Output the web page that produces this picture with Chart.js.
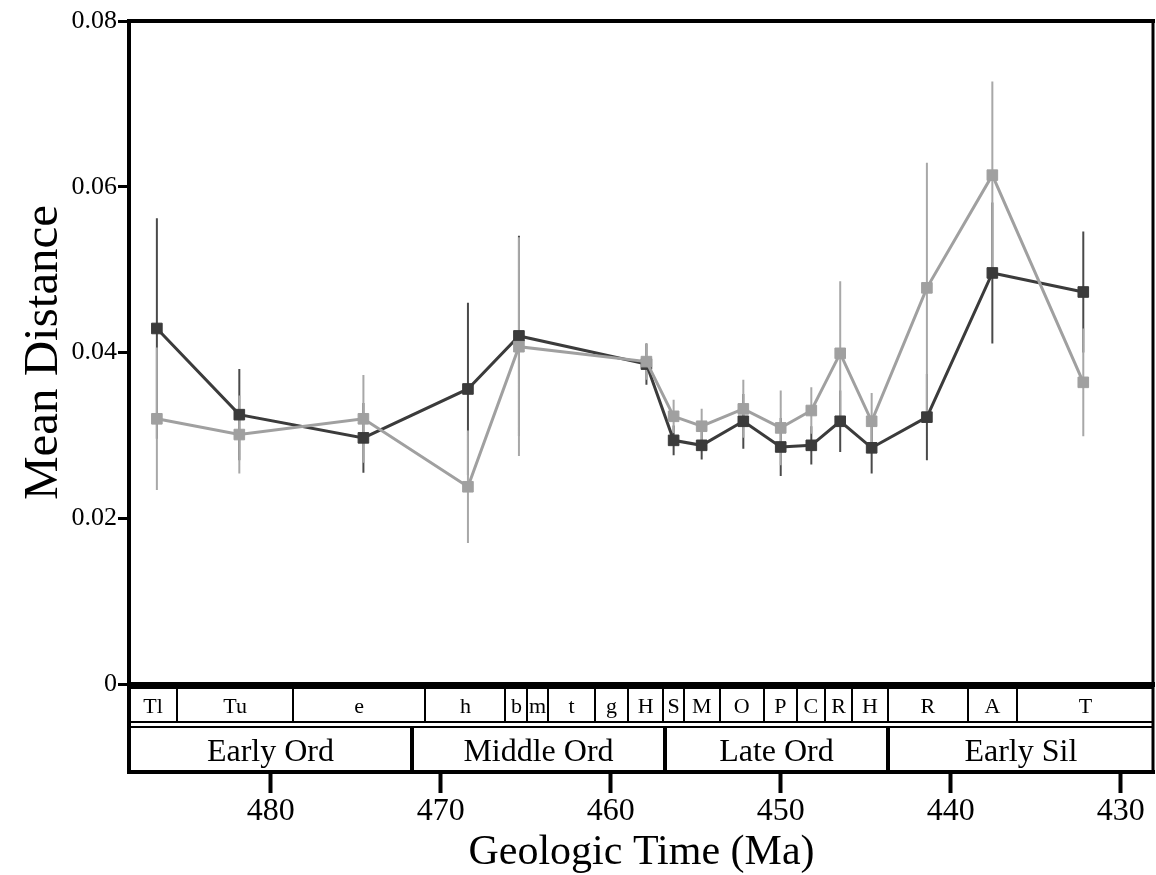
<!DOCTYPE html>
<html>
<head>
<meta charset="utf-8">
<script src="https://cdn.jsdelivr.net/npm/chart.js@4/dist/chart.umd.min.js"></script>
<style>
  html, body { margin: 0; padding: 0; background: #fff; }
  canvas { display: block; }
</style>
</head>
<body>
<canvas id="chart" width="1156" height="875"></canvas>
<script>
// Sample ages (Ma), one per stage slice
const ages = [486.7, 481.85, 474.55, 468.4, 465.4, 457.9, 456.3, 454.65, 452.2, 450.0, 448.2, 446.5, 444.65, 441.4, 437.55, 432.2];

// Dark series: mean distance and error half-width
const darkMean = [0.0429, 0.0325, 0.0297, 0.0356, 0.0420, 0.0386, 0.0294, 0.0288, 0.0317, 0.0286, 0.0288, 0.0317, 0.0285, 0.0322, 0.0496, 0.0473];
const darkErr  = [0.0133, 0.0055, 0.0042, 0.0104, 0.0121, 0.0025, 0.0018, 0.0017, 0.0033, 0.0035, 0.0023, 0.0037, 0.0031, 0.0052, 0.0085, 0.0073];

// Light series: mean distance and error half-width
const lightMean = [0.0320, 0.0301, 0.0320, 0.0238, 0.0407, 0.0389, 0.0323, 0.0311, 0.0332, 0.0309, 0.0330, 0.0399, 0.0317, 0.0478, 0.0614, 0.0364];
const lightErr  = [0.0086, 0.0047, 0.0053, 0.0068, 0.0132, 0.0022, 0.0020, 0.0021, 0.0035, 0.0045, 0.0028, 0.0087, 0.0034, 0.0151, 0.0113, 0.0065];

// Axis ticks
const yTicks = [0, 0.02, 0.04, 0.06, 0.08];
const xTicks = [480, 470, 460, 450, 440, 430];
const xOldest = 488.34, xYoungest = 428.04;

// Time scale bars: stage slices and periods (edges in Ma)
const stageEdges = [488.34, 485.5, 478.7, 470.9, 466.2, 464.9, 463.7, 460.9, 459.0, 456.9, 455.7, 453.6, 451.0, 449.05, 447.4, 445.8, 443.7, 439.0, 436.1, 428.04];
const stageNames = ['Tl', 'Tu', 'e', 'h', 'b', 'm', 't', 'g', 'H', 'S', 'M', 'O', 'P', 'C', 'R', 'H', 'R', 'A', 'T'];
const periodEdges = [488.34, 471.7, 456.8, 443.7, 428.04];
const periodNames = ['Early Ord', 'Middle Ord', 'Late Ord', 'Early Sil'];

const SERIF = "'Liberation Serif', 'Times New Roman', serif";
const DARK = '#3b3b3b', LIGHT = '#a0a0a0';

function seriesPoints(vals) {
  return ages.map((a, i) => ({ x: a, y: vals[i] }));
}
// vertical whiskers as one broken line: low, high, gap
function whiskers(vals, errs) {
  const pts = [];
  ages.forEach((a, i) => {
    pts.push({ x: a, y: vals[i] - errs[i] }, { x: a, y: vals[i] + errs[i] }, { x: a, y: null });
  });
  return pts;
}

// Frame lines and the stage / period bars below the zero line
const timescale = {
  id: 'timescale',
  afterDraw(chart) {
    const { ctx, chartArea: ca, scales: { x } } = chart;
    const L = ca.left, R = ca.right - 1;
    const zero = ca.bottom;
    const sTop = zero + 4, sBot = zero + 38;
    const pTop = zero + 43, pBot = zero + 88;
    ctx.save();
    // clear the band (hides the long tick marks inside it)
    ctx.fillStyle = '#fff';
    ctx.fillRect(L + 2, zero + 3, R - L, pBot - zero - 4);

    ctx.strokeStyle = '#000';
    const hline = (y, x0, x1, w) => { ctx.lineWidth = w; ctx.beginPath(); ctx.moveTo(x0, y); ctx.lineTo(x1, y); ctx.stroke(); };
    const vline = (xp, y0, y1, w) => { ctx.lineWidth = w; ctx.beginPath(); ctx.moveTo(xp, y0); ctx.lineTo(xp, y1); ctx.stroke(); };

    // top and right frame
    hline(ca.top, L - 2, R + 2, 4);
    vline(R, ca.top, pBot + 2, 3);
    // left axis continues down through the bars
    vline(L, zero, pBot + 2, 4);

    // stage row
    hline(sTop, L, R, 2);
    hline(sBot, L, R, 2);
    for (let i = 1; i < stageEdges.length - 1; i++) {
      vline(Math.round(x.getPixelForValue(stageEdges[i])), sTop, sBot, 2);
    }
    ctx.fillStyle = '#000';
    ctx.textAlign = 'center';
    ctx.textBaseline = 'alphabetic';
    ctx.font = '22px ' + SERIF;
    for (let i = 0; i < stageNames.length; i++) {
      const a = x.getPixelForValue(stageEdges[i]);
      const b = x.getPixelForValue(stageEdges[i + 1]);
      ctx.fillText(stageNames[i], (a + b) / 2, sBot - 9);
    }

    // period row
    hline(pTop, L, R, 2);
    hline(pBot, L - 2, R + 2, 4);
    for (let i = 1; i < periodEdges.length - 1; i++) {
      vline(Math.round(x.getPixelForValue(periodEdges[i])), pTop, pBot, 4);
    }
    ctx.font = '32px ' + SERIF;
    for (let i = 0; i < periodNames.length; i++) {
      const a = x.getPixelForValue(periodEdges[i]);
      const b = x.getPixelForValue(periodEdges[i + 1]);
      ctx.fillText(periodNames[i], (a + b) / 2, pBot - 11);
    }
    ctx.restore();
  }
};

new Chart(document.getElementById('chart'), {
  type: 'line',
  data: {
    datasets: [
      {
        label: 'light',
        data: seriesPoints(lightMean),
        borderColor: LIGHT, backgroundColor: LIGHT, borderWidth: 3,
        pointStyle: 'rect', pointRadius: 7.5, pointBorderWidth: 1,
        pointBackgroundColor: LIGHT, pointBorderColor: LIGHT, tension: 0
      },
      {
        label: 'dark',
        data: seriesPoints(darkMean),
        borderColor: DARK, backgroundColor: DARK, borderWidth: 3,
        pointStyle: 'rect', pointRadius: 7.5, pointBorderWidth: 1,
        pointBackgroundColor: DARK, pointBorderColor: DARK, tension: 0
      },
      {
        label: 'light error',
        data: whiskers(lightMean, lightErr),
        borderColor: '#a8a8a8', borderWidth: 2, pointRadius: 0, spanGaps: false
      },
      {
        label: 'dark error',
        data: whiskers(darkMean, darkErr),
        borderColor: '#4a4a4a', borderWidth: 2, pointRadius: 0, spanGaps: false
      }
    ]
  },
  options: {
    responsive: false,
    animation: false,
    devicePixelRatio: 1,
    events: [],
    layout: { autoPadding: false, padding: { top: 21, right: 2, bottom: 0, left: 0 } },
    plugins: { legend: { display: false }, tooltip: { enabled: false } },
    scales: {
      x: {
        type: 'linear',
        reverse: true,
        min: xYoungest,
        max: xOldest,
        afterBuildTicks: s => { s.ticks = xTicks.map(v => ({ value: v })); },
        afterFit: s => { s.height = 191; s.paddingLeft = 0; s.paddingRight = 0; },
        grid: { drawOnChartArea: false, drawTicks: true, tickLength: 109, tickWidth: 4, tickColor: '#000' },
        border: { display: true, width: 5, color: '#000' },
        ticks: {
          color: '#000', padding: -1, maxRotation: 0, autoSkip: false,
          font: { family: SERIF, size: 32 },
          callback: v => String(v)
        },
        title: {
          display: true, text: 'Geologic Time (Ma)', color: '#000',
          font: { family: SERIF, size: 42, lineHeight: 1 },
          padding: { top: 0, bottom: 1 }
        }
      },
      y: {
        min: 0,
        max: 0.08,
        afterBuildTicks: s => { s.ticks = yTicks.map(v => ({ value: v })); },
        afterFit: s => { s.width = 129; s.paddingTop = 0; s.paddingBottom = 0; },
        grid: { drawOnChartArea: false, drawTicks: true, tickLength: 11, tickWidth: 3, tickColor: '#000' },
        border: { display: true, width: 4, color: '#000' },
        ticks: {
          color: '#000', padding: 1,
          font: { family: SERIF, size: 26 },
          callback: v => (v === 0 ? '0' : v.toFixed(2))
        },
        title: {
          display: true, text: 'Mean Distance', color: '#000',
          font: { family: SERIF, size: 49, lineHeight: 1 },
          padding: { top: 20, bottom: 0 }
        }
      }
    }
  },
  plugins: [timescale]
});
</script>
</body>
</html>
